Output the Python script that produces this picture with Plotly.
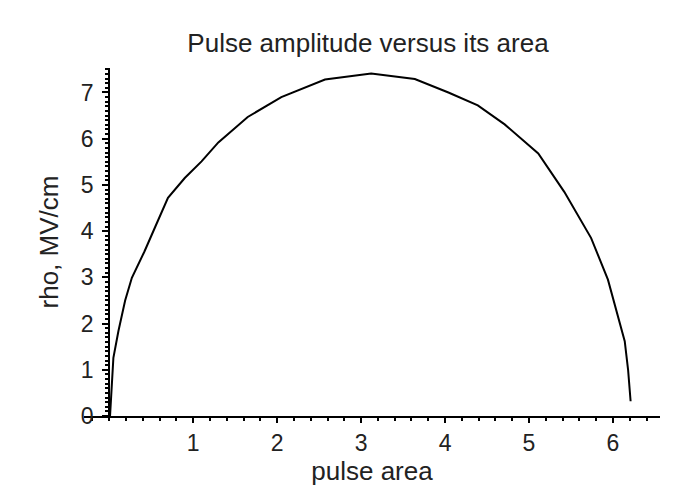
import plotly.graph_objects as go

# pulse area (x) and amplitude rho in MV/cm (y)
pulse_area = [0.01, 0.03, 0.05, 0.11, 0.19, 0.27, 0.42, 0.55, 0.70, 0.90, 1.10,
              1.30, 1.65, 2.05, 2.57, 3.12, 3.64, 4.04, 4.39, 4.71, 5.11, 5.42,
              5.74, 5.94, 6.14, 6.18, 6.21]
rho = [0.00, 0.60, 1.26, 1.84, 2.50, 2.99, 3.56, 4.10, 4.72, 5.15, 5.51,
       5.92, 6.47, 6.90, 7.28, 7.41, 7.29, 7.00, 6.72, 6.31, 5.68, 4.85,
       3.85, 2.95, 1.62, 1.00, 0.32]

x_ticks = [1, 2, 3, 4, 5, 6]
y_ticks = [0, 1, 2, 3, 4, 5, 6, 7]
x_range = [-0.30, 6.56]
y_range = [0, 7.53]

font_family = "Liberation Sans, Arial, sans-serif"
txt = "#222222"

fig = go.Figure()
fig.add_trace(go.Scatter(x=pulse_area, y=rho, mode="lines",
                         line=dict(color="black", width=2), showlegend=False))

fig.update_layout(
    width=673, height=487,
    margin=dict(l=76, r=21, t=60, b=79),
    paper_bgcolor="white", plot_bgcolor="white",
    font=dict(family=font_family, size=23, color=txt),
    title=dict(text="Pulse amplitude versus its area", x=360 / 673, xref="container",
               xanchor="center",
               y=1 - 35 / 487, yanchor="middle",
               font=dict(family=font_family, size=26, color=txt)),
    xaxis=dict(range=x_range, tickvals=x_ticks, showgrid=False, zeroline=False,
               automargin=False,
               showline=True, linecolor="black", linewidth=2,
               ticks="outside", ticklen=5, tickwidth=2, tickcolor="black",
               tickfont=dict(size=23),
               minor=dict(dtick=0.2, ticks="outside", ticklen=3, tickwidth=2, tickcolor="black"),
               title=dict(text="pulse area", standoff=4, font=dict(size=26))),
    yaxis=dict(range=y_range, tickvals=y_ticks, showgrid=False, zeroline=False,
               automargin=False,
               anchor="free",
               position=(0 - x_range[0]) / (x_range[1] - x_range[0]),
               showline=True, linecolor="black", linewidth=2,
               ticks="outside", ticklen=6, tickwidth=2, tickcolor="black",
               ticklabelstandoff=4,
               tickfont=dict(size=23),
               minor=dict(dtick=0.1, ticks="outside", ticklen=3, tickwidth=1.5, tickcolor="black"),
               title=dict(text="rho, MV/cm", standoff=14, font=dict(size=26))),
)

fig.write_html("out.html")
